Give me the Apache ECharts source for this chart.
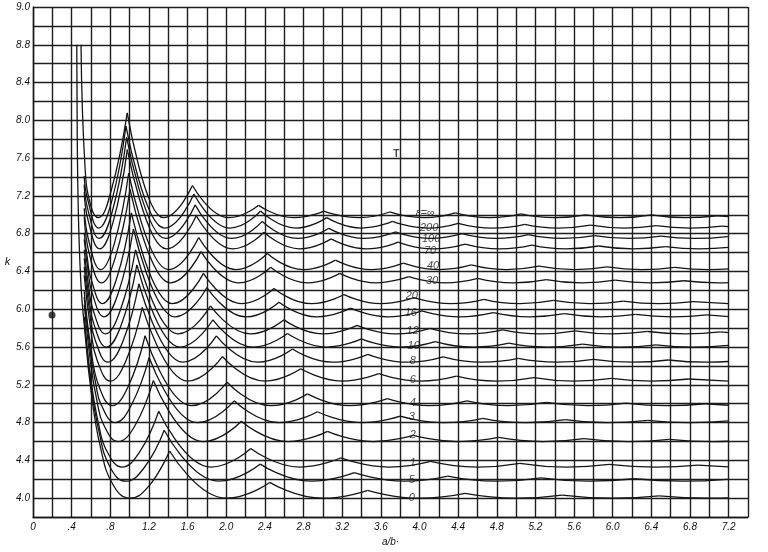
<!DOCTYPE html>
<html>
<head>
<meta charset="utf-8">
<script src="https://cdn.jsdelivr.net/npm/echarts@6/dist/echarts.min.js"></script>
<style>
html, body { margin: 0; background: #fff; }
#chart { width: 768px; height: 552px; }
</style>
</head>
<body>
<div id="chart"></div>
<script>
// curves, top (clamped) to bottom (simply supported)
const epsNames = ['∞', '200', '100', '70', '40', '30', '20', '16', '12', '10', '8', '6', '4', '3', '2', '1', '.5', '0'];
const kMin = [6.97, 6.86, 6.75, 6.64, 6.42, 6.28, 6.06, 5.92, 5.74, 5.60, 5.44, 5.24, 4.98, 4.80, 4.60, 4.33, 4.18, 4.00];

// left branch of each curve: first drawn point, down to the first minimum, up to the first cusp
const branch = [
  [[0.497, 8.8], [0.54, 7.48], [0.6, 7.09], [0.675, 6.97], [0.81, 7.26], [0.975, 8.08]],
  [[0.53, 7.41], [0.564, 7.17], [0.68, 6.86], [0.816, 7.15], [0.962, 7.94]],
  [[0.53, 7.32], [0.569, 7.05], [0.685, 6.75], [0.822, 7.04], [0.969, 7.82]],
  [[0.53, 7.24], [0.573, 6.93], [0.69, 6.64], [0.828, 6.92], [0.976, 7.69]],
  [[0.53, 7.07], [0.581, 6.71], [0.70, 6.42], [0.84, 6.69], [0.99, 7.44]],
  [[0.53, 6.98], [0.589, 6.56], [0.71, 6.28], [0.852, 6.55], [1.004, 7.27]],
  [[0.53, 6.81], [0.565, 6.52], [0.598, 6.33], [0.72, 6.06], [0.864, 6.32], [1.018, 7.02]],
  [[0.53, 6.74], [0.57, 6.41], [0.61, 6.18], [0.735, 5.92], [0.882, 6.17], [1.039, 6.85]],
  [[0.53, 6.63], [0.575, 6.25], [0.6225, 5.99], [0.75, 5.74], [0.90, 5.98], [1.061, 6.63]],
  [[0.53, 6.54], [0.58, 6.12], [0.631, 5.84], [0.76, 5.60], [0.912, 5.83], [1.075, 6.47]],
  [[0.53, 6.45], [0.59, 5.95], [0.643, 5.675], [0.775, 5.44], [0.93, 5.66], [1.096, 6.27]],
  [[0.53, 6.36], [0.6, 5.77], [0.664, 5.46], [0.80, 5.24], [0.96, 5.45], [1.131, 6.02]],
  [[0.53, 6.19], [0.6, 5.58], [0.681, 5.19], [0.82, 4.98], [0.984, 5.18], [1.16, 5.72]],
  [[0.53, 6.13], [0.6, 5.50], [0.65, 5.21], [0.7055, 4.99], [0.85, 4.80], [1.02, 4.99], [1.202, 5.49]],
  [[0.53, 6.05], [0.6, 5.40], [0.66, 5.04], [0.73, 4.78], [0.88, 4.60], [1.056, 4.77], [1.245, 5.245]],
  [[0.53, 5.92], [0.6, 5.25], [0.68, 4.78], [0.764, 4.50], [0.92, 4.33], [1.104, 4.49], [1.301, 4.92]],
  [[0.53, 5.90], [0.6, 5.21], [0.68, 4.72], [0.797, 4.33], [0.96, 4.18], [1.152, 4.325], [1.358, 4.72]],
  [[0.453, 8.8], [0.46, 7.6], [0.475, 6.8], [0.50, 6.2], [0.53, 5.84], [0.6, 5.14], [0.7, 4.53], [0.83, 4.14], [1.0, 4.0], [1.2, 4.13], [1.414, 4.5]]
];

// later minima (all at kMin) and the cusps between scallops
const minX = [
  [1.35, 2.025, 2.70, 3.375, 4.05, 4.725, 5.40, 6.075, 6.75],
  [1.36, 2.04, 2.72, 3.40, 4.08, 4.76, 5.44, 6.12, 6.80],
  [1.37, 2.055, 2.74, 3.425, 4.11, 4.795, 5.48, 6.165, 6.85],
  [1.38, 2.07, 2.76, 3.45, 4.14, 4.83, 5.52, 6.21, 6.90],
  [1.40, 2.10, 2.80, 3.50, 4.20, 4.90, 5.60, 6.30, 7.00],
  [1.42, 2.13, 2.84, 3.55, 4.26, 4.97, 5.68, 6.39, 7.10],
  [1.44, 2.16, 2.88, 3.60, 4.32, 5.04, 5.76, 6.48, 7.20],
  [1.47, 2.205, 2.94, 3.675, 4.41, 5.145, 5.88, 6.615],
  [1.5, 2.25, 3.0, 3.75, 4.5, 5.25, 6.0, 6.75],
  [1.52, 2.28, 3.04, 3.80, 4.56, 5.32, 6.08, 6.84],
  [1.55, 2.325, 3.10, 3.875, 4.65, 5.425, 6.20, 6.975],
  [1.6, 2.4, 3.2, 4.0, 4.8, 5.6, 6.4, 7.2],
  [1.64, 2.46, 3.28, 4.10, 4.92, 5.74, 6.56],
  [1.70, 2.55, 3.40, 4.25, 5.10, 5.95, 6.80],
  [1.76, 2.64, 3.52, 4.40, 5.28, 6.16, 7.04],
  [1.84, 2.76, 3.68, 4.60, 5.52, 6.44],
  [1.92, 2.88, 3.84, 4.80, 5.76, 6.72],
  [2, 3, 4, 5, 6, 7]
];
const cuspX = [
  [1.65, 2.335, 3.01, 3.69, 4.37, 5.05, 5.72, 6.40, 7.08],
  [1.665, 2.355, 3.04, 3.72, 4.40, 5.09, 5.77, 6.45, 7.13],
  [1.678, 2.373, 3.063, 3.752, 4.439, 5.126, 5.812, 6.498, 7.184],
  [1.690, 2.390, 3.086, 3.779, 4.472, 5.163, 5.855, 6.546],
  [1.715, 2.425, 3.130, 3.834, 4.537, 5.238, 5.940, 6.641],
  [1.739, 2.460, 3.175, 3.889, 4.601, 5.313, 6.025, 6.736],
  [1.764, 2.494, 3.220, 3.943, 4.666, 5.388, 6.109, 6.831],
  [1.800, 2.546, 3.287, 4.026, 4.763, 5.500, 6.237, 6.973],
  [1.837, 2.598, 3.354, 4.108, 4.861, 5.612, 6.364, 7.115],
  [1.862, 2.633, 3.399, 4.163, 4.925, 5.687, 6.449],
  [1.898, 2.685, 3.466, 4.245, 5.023, 5.800, 6.576],
  [1.960, 2.771, 3.578, 4.382, 5.185, 5.987, 6.788],
  [2.009, 2.841, 3.667, 4.491, 5.313, 6.136, 6.958],
  [2.082, 2.944, 3.801, 4.655, 5.509, 6.362],
  [2.156, 3.048, 3.935, 4.820, 5.703, 6.586],
  [2.254, 3.187, 4.114, 5.039, 5.962, 6.884],
  [2.352, 3.325, 4.293, 5.258, 6.222, 7.184],
  [2.449, 3.464, 4.472, 5.477, 6.481]
];
const cuspK = [
  [7.31, 7.10, 7.04, 7.03, 7.02, 7.01, 7.00, 7.00, 6.99],
  [7.22, 7.04, 6.97, 6.93, 6.91, 6.90, 6.89, 6.885, 6.88],
  [7.105, 6.93, 6.857, 6.82, 6.80, 6.79, 6.78, 6.774, 6.77],
  [6.99, 6.815, 6.745, 6.71, 6.69, 6.68, 6.67, 6.663],
  [6.76, 6.59, 6.52, 6.488, 6.469, 6.456, 6.448, 6.443],
  [6.61, 6.445, 6.38, 6.346, 6.327, 6.315, 6.308, 6.302],
  [6.38, 6.22, 6.156, 6.124, 6.106, 6.094, 6.087, 6.081],
  [6.23, 6.074, 6.013, 5.982, 5.964, 5.953, 5.946, 5.941],
  [6.036, 5.888, 5.829, 5.799, 5.782, 5.772, 5.765, 5.76],
  [5.889, 5.744, 5.687, 5.658, 5.641, 5.631, 5.624],
  [5.718, 5.579, 5.523, 5.496, 5.48, 5.47, 5.463],
  [5.50, 5.37, 5.318, 5.292, 5.277, 5.268, 5.262],
  [5.228, 5.104, 5.054, 5.03, 5.015, 5.007, 5.0],
  [5.031, 4.915, 4.869, 4.846, 4.833, 4.825],
  [4.815, 4.708, 4.665, 4.643, 4.631, 4.623],
  [4.527, 4.428, 4.389, 4.369, 4.358, 4.351],
  [4.361, 4.27, 4.234, 4.216, 4.206, 4.20],
  [4.167, 4.083, 4.05, 4.033, 4.024]
];
// value where each curve stops, at a/b = 7.2
const endX = 7.2;
const endK = [6.98, 6.875, 6.768, 6.655, 6.427, 6.282, 6.06, 5.923, 5.752, 5.618, 5.447, 5.24, 4.984, 4.818, 4.603, 4.332, 4.198, 4.003];

// curve labels written along a/b = 4
const labelText = ['ε=∞', '200', '100', '70', '40', '30', '20', '16', '12', '10', '8', '6', '4', '3', '2', '1', '5', '0'];
const labelX = [4.06, 4.10, 4.12, 4.11, 4.14, 4.13, 3.92, 3.91, 3.93, 3.94, 3.93, 3.93, 3.93, 3.92, 3.93, 3.93, 3.92, 3.92];
const labelK = [7.02, 6.86, 6.74, 6.62, 6.46, 6.30, 6.14, 5.96, 5.77, 5.61, 5.45, 5.25, 5.01, 4.86, 4.67, 4.37, 4.19, 4.0];

const xTickLabels = ['0', '.4', '.8', '1.2', '1.6', '2.0', '2.4', '2.8', '3.2', '3.6', '4.0', '4.4', '4.8', '5.2', '5.6', '6.0', '6.4', '6.8', '7.2'];
const yTickLabels = ['4.0', '4.4', '4.8', '5.2', '5.6', '6.0', '6.4', '6.8', '7.2', '7.6', '8.0', '8.4', '8.8', '9.0'];

// ink blot and stray mark on the sheet
const blot = [[0.197, 5.94]];
const strayMark = [[3.76, 7.645]];

const chart = echarts.init(document.getElementById('chart'));
const ink = '#151515';
const series = [];

function pushLine(pts, monotone) {
  series.push({
    type: 'line',
    data: pts,
    symbol: 'none',
    smooth: monotone ? 0.5 : 0.45,
    smoothMonotone: monotone ? 'x' : null,
    silent: true,
    lineStyle: { color: ink, width: 1.3 },
    z: 3
  });
}

for (let i = 0; i < epsNames.length; i++) {
  pushLine(branch[i], false);
  let prev = branch[i][branch[i].length - 1];
  for (let j = 0; j < cuspX[i].length; j++) {
    const cusp = [cuspX[i][j], cuspK[i][j]];
    pushLine([prev, [minX[i][j], kMin[i]], cusp], true);
    prev = cusp;
  }
  const last = [prev];
  if (minX[i].length > cuspX[i].length) last.push([minX[i][minX[i].length - 1], kMin[i]]);
  if (last[last.length - 1][0] < endX - 1e-6) last.push([endX, endK[i]]);
  pushLine(last, last.length > 2);
}

series.push({
  type: 'scatter',
  data: labelX.map((x, i) => [x, labelK[i]]),
  symbolSize: 0,
  silent: true,
  z: 5,
  label: {
    show: true,
    position: 'inside',
    formatter: p => labelText[p.dataIndex],
    fontFamily: 'Liberation Sans',
    fontStyle: 'italic',
    fontSize: 11,
    color: ink
  }
});
series.push({
  type: 'scatter',
  data: strayMark,
  symbolSize: 0,
  silent: true,
  label: {
    show: true, position: 'inside', formatter: 'T',
    fontFamily: 'Liberation Sans', fontWeight: 'bold', fontSize: 10, color: ink
  }
});
series.push({
  type: 'scatter',
  data: blot,
  symbolSize: 7,
  silent: true,
  itemStyle: { color: ink }
});

function near(a, b) { return Math.abs(a - b) < 1e-6; }

chart.setOption({
  animation: false,
  backgroundColor: '#fff',
  grid: { left: 33, right: 20, top: 7, bottom: 31 },
  xAxis: {
    type: 'value',
    min: 0, max: 7.4, interval: 0.2,
    name: 'a/b·',
    nameLocation: 'middle',
    nameGap: 16,
    nameTextStyle: { fontFamily: 'Liberation Sans', fontStyle: 'italic', fontSize: 10, color: ink },
    axisLine: { lineStyle: { color: ink, width: 1.4 } },
    axisTick: { show: false },
    splitLine: { show: true, lineStyle: { color: '#1e1e1e', width: 1.4 } },
    axisLabel: {
      margin: 5,
      fontFamily: 'Liberation Sans', fontStyle: 'italic', fontSize: 10, color: '#111',
      formatter: v => {
        const n = Math.round(v / 0.4);
        return near(v, n * 0.4) && n < xTickLabels.length ? xTickLabels[n] : '';
      }
    }
  },
  yAxis: {
    type: 'value',
    min: 3.8, max: 9.2, interval: 0.2,
    name: 'k',
    nameLocation: 'middle',
    nameRotate: 0,
    nameGap: 12,
    nameTextStyle: { fontFamily: 'Liberation Sans', fontStyle: 'italic', fontSize: 11, color: ink },
    axisLine: { show: true, lineStyle: { color: ink, width: 1.4 } },
    axisTick: { show: false },
    splitLine: { show: true, lineStyle: { color: '#1e1e1e', width: 1.4 } },
    axisLabel: {
      margin: 3,
      fontFamily: 'Liberation Sans', fontStyle: 'italic', fontSize: 10, color: '#111',
      formatter: v => {
        const n = Math.round((v - 4.0) / 0.4);
        return n >= 0 && near(v, 4.0 + n * 0.4) && n < yTickLabels.length ? yTickLabels[n] : '';
      }
    }
  },
  series: series
});
</script>
</body>
</html>
